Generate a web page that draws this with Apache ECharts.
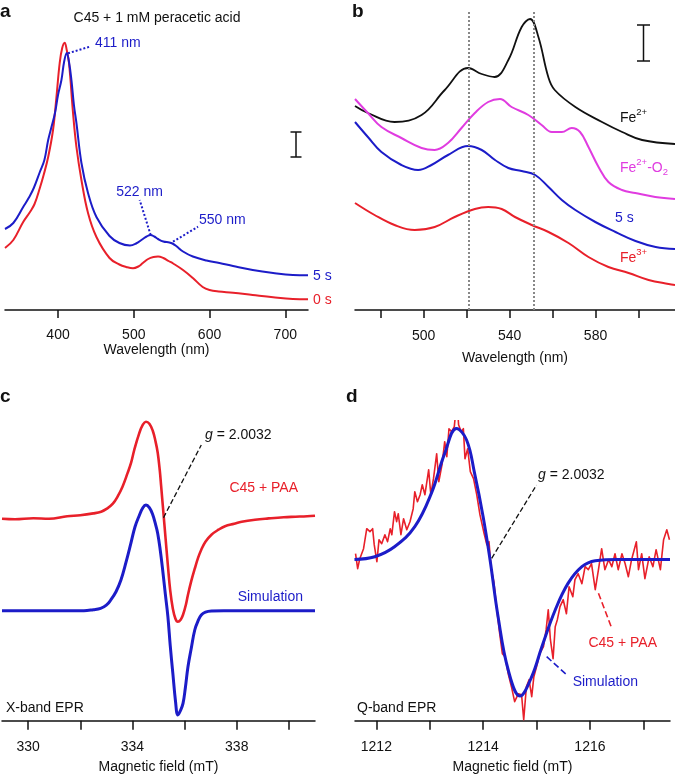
<!DOCTYPE html>
<html><head><meta charset="utf-8">
<script src="https://cdn.jsdelivr.net/npm/echarts@6/dist/echarts.min.js"></script>
<style>html,body{margin:0;padding:0;background:#fff}#c{width:675px;height:775px}</style>
</head><body><div id="c"></div>
<script>
const FONT = '"Liberation Sans", Arial, Helvetica, sans-serif';
const RED = '#e8202a', BLUE = '#1c1cc8', MAG = '#e03ce0', BLACK = '#111';

// ---------- Panel a: UV-vis, C45 + 1 mM peracetic acid ----------
const aTicks = [400, 500, 600, 700];
const aWave5s = [330,341,354,362,368,376,382,387,391,396,400,404.5,408,411.5,414.5,417.7,421,424.3,430.9,439.6,450.7,468,481,495,503,512,517,522,527,532,539,547,551,556,565,578,596,613,631,657,684,710,730];
const aAbs5s  = [81,87,103,113,122,138,150,170,182,197,215,230,248,257,248,230,205,187,147,117,93,74,67,64.5,66.5,71,73.5,75,73.5,71,68.5,67.5,66.5,64,58.5,53.5,49.5,47,44,40,37,35,34.7];
const aWave0s = [330,341,354,363,369,376,381,387,393.4,397.9,402.2,405.5,408.8,411.5,414.5,419.8,424.3,430.9,439.6,450.7,468,481,490,499,506,512,519,526,532,539,546,552,565,578,591,600,612,631,657,684,710,730];
const aAbs0s  = [62,70,88,98,106,122,135,153,180,213,247,262,267.3,260,247,197,163,130,97,73,52,45.5,43,41.7,43.5,47,51,53,53.5,52,49,46.5,40,32,23,20,18.5,17.3,15,12.7,11,10.7];
const aPeakLeaders = [
  [[413.2,256.7],[441.8,263.3]],
  [[522.3,75],[507.8,110]],
  [[551.8,68.3],[584.8,83.3]]
];

// ---------- Panel b: visible region ----------
const bTicks = [480, 500, 520, 540, 560, 580, 600];
const bLabels = [500, 540, 580];
const bGuides = [521, 551];
const bWaveFe2 = [468,474,486.4,499,509.8,520.7,527,533,539.4,545.6,549.5,553.4,558,561,570.6,583,592.4,601.7,617];
const bAbsFe2  = [204,197,188,195,220,242,236,233,250,283,291,273,233,220,203,188,178,170,166];
const bWaveFe2O2 = [468,474,480.3,489.6,499,505.1,511.3,517.6,523.8,530,535.5,540.9,548.7,554.9,559.6,564.3,568.9,572.8,576.7,581.4,586,592.3,598.5,607.8,617];
const bAbsFe2O2  = [211,197,183,172,162,160,167,182,197,208,211,203,195,185,178,178,182,178,163,143,128,120,117,113,111];
const bWave5s = [468,474,480.3,489.6,497.4,503.6,511.3,520.7,527,533.2,539.4,545.6,551.9,558.1,564.3,570.6,579.9,589.3,598.6,608,617];
const bAbs5s  = [188,173,158,145,140,145,155,164,160,150,142,139,135,123,110,100,88,78,69,63,61];
const bWaveFe3 = [468,477.1,486.4,495.8,505.1,514.4,523.8,530,536.3,542.5,550.3,558.1,567.4,576.7,586,595.4,604.7,614,617];
const bAbsFe3  = [107,95,85,80,83,93,101,103,101,93,85,78,67,53,43,37,30,26,25];

// ---------- Panel c: X-band EPR ----------
const cTicks = [330, 332, 334, 336, 338, 340];
const cLabels = [330, 334, 338];
const cFieldExp = [329.0,329.5,330.2,330.8,331.5,332.0,332.5,332.8,333.04,333.25,333.43,333.62,333.81,333.95,334.07,334.26,334.4,334.52,334.65,334.78,334.88,334.97,335.05,335.1,335.23,335.36,335.45,335.55,335.65,335.74,335.85,335.94,336.05,336.13,336.26,336.39,336.52,336.64,336.8,337.03,337.3,337.55,337.9,338.19,338.7,339.22,339.8,340.25,340.7,341.0];
const cSigExp   = [202,201.5,202.5,202,204.5,205.5,207.3,209,212.3,217,224,234,247.3,258,270.7,287.3,296,299,297,290,280,268,250,235,195,155,130,112,102,99,101,106,116,126,140,152,163,171,179,186,191,194.5,197,199,201,202.3,203.5,204,204.5,205];
const cFieldSim = [329,331,332.14,332.5,332.78,333.0,333.17,333.37,333.56,333.75,333.94,334.1,334.26,334.4,334.52,334.65,334.78,334.88,334.97,335.07,335.16,335.26,335.36,335.45,335.55,335.65,335.74,335.84,335.94,336.03,336.13,336.26,336.39,336.52,336.64,336.8,337.03,337.5,341];
const cSigSim   = [110,110,110,111,112.3,115.5,120.7,129,140.7,158,177.3,194,205,213,215.7,213,206,197,187.3,170,150.7,127,104,75,47.3,20,5.7,10,17.3,33,54,73,90.7,100,105.7,108.5,109.7,110,110];
const cLeader = [[335.19,203],[336.64,275.7]];

// ---------- Panel d: Q-band EPR ----------
const dTicks = [1212, 1213, 1214, 1215, 1216, 1217];
const dLabels = [1212, 1214, 1216];
const dFieldExp = [1211.61,1211.65,1211.69,1211.76,1211.82,1211.88,1211.93,1211.96,1212.01,1212.05,1212.10,1212.16,1212.21,1212.26,1212.29,1212.34,1212.38,1212.41,1212.46,1212.51,1212.57,1212.63,1212.69,1212.72,1212.77,1212.82,1212.86,1212.91,1212.98,1213.02,1213.07,1213.13,1213.17,1213.23,1213.28,1213.32,1213.36,1213.41,1213.46,1213.51,1213.54,1213.59,1213.63,1213.66,1213.71,1213.76,1213.82,1213.88,1213.94,1214.01,1214.07,1214.11,1214.15,1214.20,1214.25,1214.31,1214.36,1214.41,1214.47,1214.53,1214.59,1214.66,1214.72,1214.76,1214.81,1214.86,1214.91,1214.95,1215.00,1215.06,1215.13,1215.18,1215.22,1215.26,1215.31,1215.35,1215.39,1215.44,1215.50,1215.56,1215.61,1215.68,1215.72,1215.78,1215.85,1215.91,1215.97,1216.03,1216.10,1216.16,1216.22,1216.28,1216.35,1216.41,1216.47,1216.53,1216.60,1216.66,1216.72,1216.78,1216.87,1216.91,1216.97,1217.03,1217.11,1217.18,1217.24,1217.32,1217.38,1217.44,1217.49];
const dSigExp   = [167,152,162,172,192,189,192,176,159,181,177,186,179,192,186,209,199,207,186,202,191,199,212,229,219,226,236,226,251,226,242,267,239,256,279,264,292,289,294,322,296,289,292,262,272,249,242,226,206,189,176,179,152,139,114,87,67,64,47,34,19,27,26,1,34,41,24,44,54,67,74,91,111,81,62,94,101,114,121,107,134,124,141,147,137,154,151,157,131,151,172,151,161,154,167,151,167,157,144,161,179,151,167,142,164,154,171,151,181,191,181];
const dFieldSim = [1211.59,1211.97,1212.34,1212.72,1213.03,1213.28,1213.5,1213.69,1213.84,1214.0,1214.13,1214.28,1214.47,1214.69,1214.91,1215.10,1215.35,1215.59,1215.85,1216.10,1216.53,1217.50];
const dSigSim   = [161.3,164,174,194,227.3,267.3,292.3,280.7,247.3,204,160.7,104,50.7,24.7,44,74,110.7,137.3,154,160,161.3,161.3];
const dLeaderG   = [[1214.16,162.4],[1215.0,235.7]];
const dLeaderExp = [[1216.16,127.4],[1216.41,92.4]];
const dLeaderSim = [[1215.19,64],[1215.59,44.7]];

// ---------- helpers ----------
const zip = (xs, ys) => xs.map((x, i) => [x, ys[i]]);
const grids = [
  {left: 5, top: 10, width: 303, height: 300},
  {left: 355, top: 10, width: 320, height: 300},
  {left: 2, top: 420.7, width: 313, height: 300},
  {left: 355, top: 420.7, width: 315, height: 300}
].map(g => Object.assign({outerBoundsMode: 'none', containLabel: false, show: false}, g));

function xAx(gi, min, max, ticks, labels, margin, nameGap, name, tickLen) {
  return {
    type: 'value', gridIndex: gi, min, max, name, nameLocation: 'middle', nameGap,
    nameTextStyle: {fontFamily: FONT, fontSize: 14, color: BLACK},
    axisLine: {show: true, onZero: false, lineStyle: {color: BLACK, width: 1.5}},
    axisTick: {show: true, inside: false, length: tickLen, customValues: ticks, lineStyle: {color: BLACK, width: 1.5}},
    axisLabel: {show: true, margin, customValues: labels, fontFamily: FONT, fontSize: 14, color: BLACK,
                formatter: v => String(v)},
    splitLine: {show: false}, minorTick: {show: false}
  };
}
function yAx(gi) { return {type: 'value', gridIndex: gi, min: 0, max: 300, show: false}; }
function line(gi, data, color, width, smooth, z, extra) {
  return Object.assign({
    type: 'line', xAxisIndex: gi, yAxisIndex: gi, data, symbol: 'none', showSymbol: false,
    smooth, lineStyle: {color, width, join: 'round'}, itemStyle: {color}, silent: true, z, animation: false
  }, extra || {});
}
function leaders(pairs, color, type, width) {
  return {
    silent: true, symbol: ['none', 'none'], animation: false,
    label: {show: false},
    lineStyle: {color, type, width},
    data: pairs.map(p => [{coord: p[0]}, {coord: p[1]}])
  };
}

const chart = echarts.init(document.getElementById('c'), null, {renderer: 'canvas'});

const txt = (x, y, text, opts) => ({
  type: 'text', x, y, silent: true, z: 100,
  style: Object.assign({text, fill: BLACK, font: '14px ' + FONT, textAlign: 'left', textVerticalAlign: 'middle'}, opts || {})
});
const rtxt = (x, y, text, color, align) => ({
  type: 'text', x, y, silent: true, z: 100,
  style: {
    text, textAlign: align || 'left', textVerticalAlign: 'middle', fill: color,
    rich: {
      n: {fontSize: 14, fontFamily: FONT, color},
      i: {fontSize: 14, fontFamily: FONT, fontStyle: 'italic', color},
      N: {fontSize: 14, fontFamily: FONT, color, verticalAlign: 'top', padding: [4, 0, 2, 0]},
      s: {fontSize: 9.5, fontFamily: FONT, color, verticalAlign: 'top'},
      b: {fontSize: 9.5, fontFamily: FONT, color, verticalAlign: 'bottom'}
    }
  }
});
const scaleBar = (x, y1, y2, w) => ({
  type: 'group', silent: true, children: [
    {type: 'line', shape: {x1: x, y1, x2: x, y2}, style: {stroke: BLACK, lineWidth: 1.5}},
    {type: 'line', shape: {x1: x - w, y1, x2: x + w, y2: y1}, style: {stroke: BLACK, lineWidth: 1.5}},
    {type: 'line', shape: {x1: x - w, y1: y2, x2: x + w, y2}, style: {stroke: BLACK, lineWidth: 1.5}}
  ]
});

chart.setOption({
  animation: false,
  backgroundColor: '#fff',
  grid: grids,
  xAxis: [
    xAx(0, 330, 730, aTicks, aTicks, 18, 31, 'Wavelength (nm)', 8),
    xAx(1, 468, 617, bTicks, bLabels, 19, 41, 'Wavelength (nm)', 8),
    xAx(2, 329, 341, cTicks, cLabels, 19, 39, 'Magnetic field (mT)', 9),
    xAx(3, 1211.6, 1217.5, dTicks, dLabels, 19, 39, 'Magnetic field (mT)', 9)
  ],
  yAxis: [yAx(0), yAx(1), yAx(2), yAx(3)],
  series: [
    line(0, zip(aWave0s, aAbs0s), RED, 2, 0.4, 2),
    line(0, zip(aWave5s, aAbs5s), BLUE, 2, 0.4, 3, {markLine: leaders(aPeakLeaders, BLUE, 'dotted', 2)}),
    line(1, zip(bWaveFe2, bAbsFe2), BLACK, 1.8, 0.4, 3, {markLine: Object.assign(leaders([], '#888', 'dotted', 2), {data: bGuides.map(v => ({xAxis: v}))})}),
    line(1, zip(bWaveFe2O2, bAbsFe2O2), MAG, 2, 0.4, 3),
    line(1, zip(bWave5s, bAbs5s), BLUE, 2, 0.4, 3),
    line(1, zip(bWaveFe3, bAbsFe3), RED, 2, 0.4, 3),
    line(2, zip(cFieldSim, cSigSim), BLUE, 3, 0.4, 2),
    line(2, zip(cFieldExp, cSigExp), RED, 2.6, 0.4, 3, {markLine: leaders([cLeader], BLACK, 'dashed', 1.3)}),
    line(3, zip(dFieldExp, dSigExp), RED, 1.6, false, 2, {markLine: leaders([dLeaderExp], RED, 'dashed', 1.6)}),
    line(3, zip(dFieldSim, dSigSim), BLUE, 3, 0.4, 3, {markLine: {
      silent: true, symbol: ['none','none'], animation: false, label: {show: false},
      data: [
        [{coord: dLeaderG[0], lineStyle: {color: BLACK, type: 'dashed', width: 1.3}}, {coord: dLeaderG[1]}],
        [{coord: dLeaderSim[0], lineStyle: {color: BLUE, type: 'dashed', width: 1.6}}, {coord: dLeaderSim[1]}]
      ]
    }})
  ],
  graphic: [
    txt(0, 12, 'a', {font: 'bold 19px ' + FONT}),
    txt(352, 12, 'b', {font: 'bold 19px ' + FONT}),
    txt(0, 397, 'c', {font: 'bold 19px ' + FONT}),
    txt(346, 397, 'd', {font: 'bold 19px ' + FONT}),
    txt(157, 18, 'C45 + 1 mM peracetic acid', {textAlign: 'center'}),
    txt(95, 43, '411 nm', {fill: BLUE}),
    txt(139.5, 192, '522 nm', {fill: BLUE, textAlign: 'center'}),
    txt(199, 220, '550 nm', {fill: BLUE}),
    txt(313, 276, '5 s', {fill: BLUE}),
    txt(313, 300, '0 s', {fill: RED}),
    scaleBar(296, 132, 157, 5.5),
    scaleBar(643.5, 25, 61, 6.5),
    rtxt(620, 117, '{N|Fe}{s|2+}', BLACK),
    rtxt(620, 167, '{N|Fe}{s|2+}{N|-O}{b|2}', MAG),
    txt(615, 218, '5 s', {fill: BLUE}),
    rtxt(620, 257, '{N|Fe}{s|3+}', RED),
    rtxt(205, 435, '{i|g}{n| = 2.0032}', BLACK),
    txt(298, 488, 'C45 + PAA', {fill: RED, textAlign: 'right'}),
    txt(303, 597, 'Simulation', {fill: BLUE, textAlign: 'right'}),
    txt(6, 708, 'X-band EPR'),
    rtxt(538, 475, '{i|g}{n| = 2.0032}', BLACK),
    txt(657, 643, 'C45 + PAA', {fill: RED, textAlign: 'right'}),
    txt(638, 682, 'Simulation', {fill: BLUE, textAlign: 'right'}),
    txt(357, 708, 'Q-band EPR')
  ]
});
</script></body></html>
